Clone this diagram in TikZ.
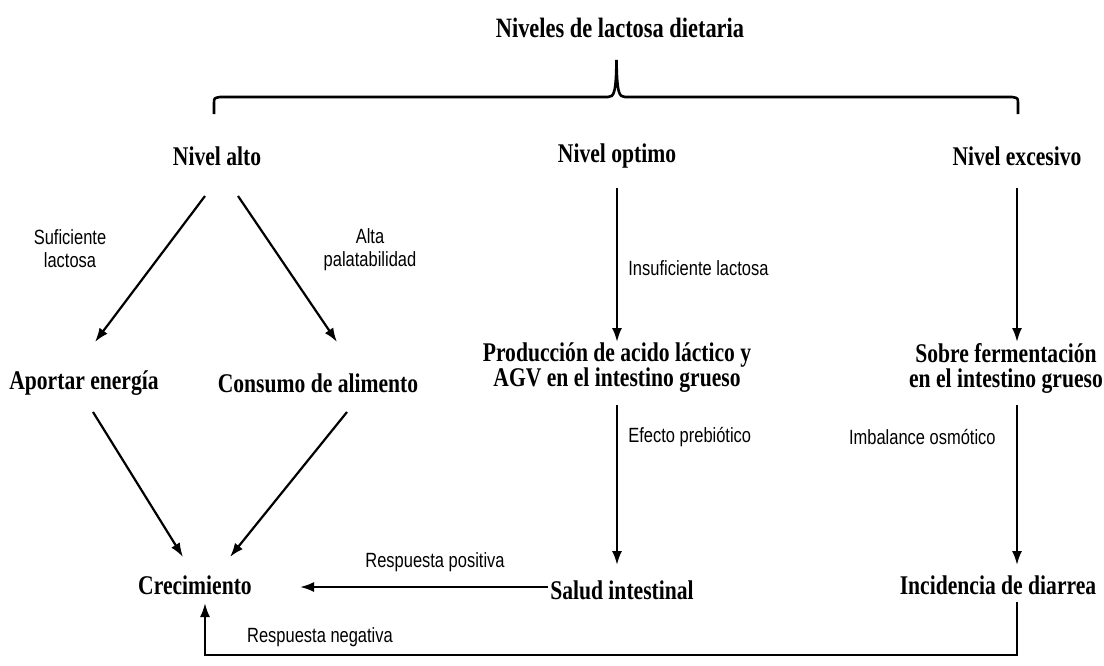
\documentclass[tikz,border=0pt]{standalone}
\usepackage{fontspec}
\usetikzlibrary{calc,arrows.meta}
\newfontfamily\nodefont[FakeStretch=0.8]{Liberation Serif}
\newfontfamily\labelfont[FakeStretch=0.8]{Liberation Sans}
\tikzset{
  nivel/.style={font=\nodefont\bfseries\fontsize{13.5}{12.5}\selectfont, inner sep=0pt, align=center},
  etiqueta/.style={font=\labelfont\fontsize{10.3}{11.5}\selectfont, inner sep=0pt, align=center},
  flecha/.style={->, line width=1.1pt}
}

\begin{document}
\begin{tikzpicture}[>={Latex[length=7pt,width=5pt]}, x=0.5pt, y=-0.5pt]
\useasboundingbox (0,0) rectangle (1104,665);

\node[nivel, font=\nodefont\bfseries\fontsize{14}{14}\selectfont] (titulo) at (620,28) {Niveles de lactosa dietaria};
\coordinate (punta) at (616.5,60);

% llave
\draw[line width=1.3pt] (214,114) -- (214,104) .. controls (214,98) .. (220,97) -- (608,97)
  .. controls (614,97) and (616,93) .. (punta) .. controls (617,93) and (619,97) .. (625,97)
  -- (1012,97) .. controls (1018,98) .. (1018,104) -- (1018,114);

\node[nivel] (alto) at (217,156) {Nivel alto};
\node[nivel] (optimo) at (617,156) {Nivel optimo};
\node[nivel] (excesivo) at (1017,156) {Nivel excesivo};

\node[nivel] (aportar) at (84,383) {Aportar energía};
\node[nivel] (consumo) at (318,383) {Consumo de alimento};
\node[nivel] (produccion) at (617,368) {Producción de acido láctico y\\AGV en el intestino grueso};
\node[nivel] (sobre) at (1006,368) {Sobre fermentación\\en el intestino grueso};

\node[nivel] (crec) at (195,585) {Crecimiento};
\node[nivel] (salud) at (622,590) {Salud intestinal};
\node[nivel] (incid) at (998,585) {Incidencia de diarrea};

\draw[flecha] ($(alto)+(-12,40)$) -- ($(aportar)+(11,-41)$);
\draw[flecha] ($(alto)+(21,40)$) -- ($(consumo)+(19,-41)$);
\draw[flecha] ($(optimo)+(0,32)$) -- ($(produccion)+(0,-26)$);
\draw[flecha] ($(excesivo)+(0,32)$) -- ($(sobre)+(11,-26)$);
\draw[flecha] ($(aportar)+(9,29)$) -- ($(crec)+(-12,-28)$);
\draw[flecha] ($(consumo)+(29,29)$) -- ($(crec)+(35,-28)$);
\draw[flecha] ($(produccion)+(0,37)$) -- ($(salud)+(-5,-25)$);
\draw[flecha] ($(sobre)+(11,37)$) -- ($(incid)+(19,-20)$);
\draw[flecha] ($(salud)+(-74,-3)$) -- ($(crec)+(105,2)$);
\draw[flecha] ($(incid)+(19,17)$) |- ($(crec)+(10,70)$) -- ($(crec)+(10,18)$);

\node[etiqueta] (suficiente) at (70,249) {Suficiente\\lactosa};
\node[etiqueta] (alta) at (370,250) {Alta\\palatabilidad};
\node[etiqueta, anchor=west] (insuficiente) at (628,268) {Insuficiente lactosa};
\node[etiqueta, anchor=west] (prebiotico) at (628,437) {Efecto prebiótico};
\node[etiqueta, anchor=east] (osmotico) at (996,437) {Imbalance osmótico};
\node[etiqueta] (positiva) at (435,562) {Respuesta positiva};
\node[etiqueta] (negativa) at (320,637) {Respuesta negativa};
\end{tikzpicture}
\end{document}
